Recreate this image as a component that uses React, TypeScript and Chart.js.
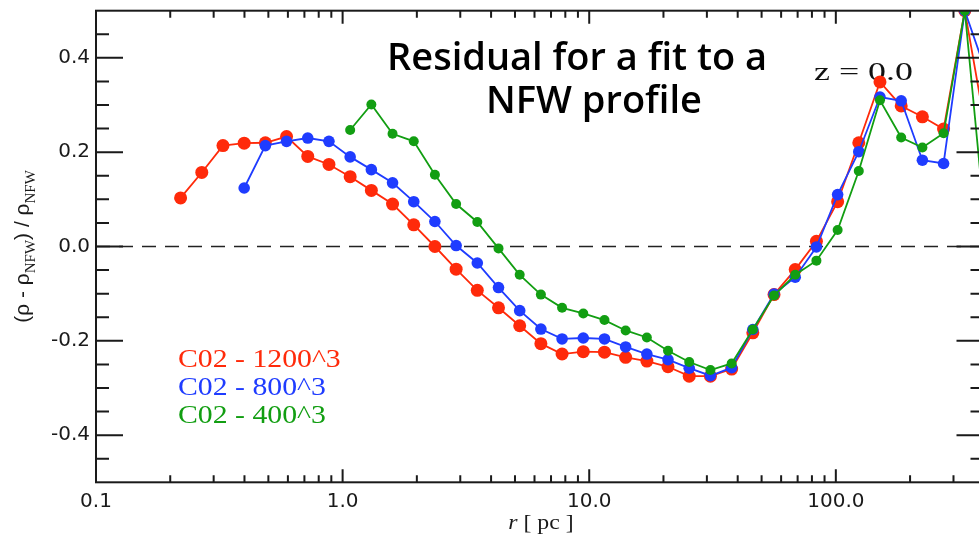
import React, { useEffect, useRef } from 'react';
import { Chart, registerables } from 'chart.js';

Chart.register(...registerables);

// ---- data ----
const radiiPc = [
  0.2203, 0.2685, 0.3272, 0.3989, 0.4861, 0.5925, 0.7222, 0.8802, 1.073, 1.308,
  1.594, 1.943, 2.367, 2.886, 3.517, 4.287, 5.225, 6.368, 7.762, 9.461,
  11.53, 14.05, 17.13, 20.87, 25.44, 31.01, 37.8, 46.07, 56.15, 68.44,
  83.42, 101.7, 123.9, 151.0, 184.1, 224.4, 273.5, 333.4, 406.3,
];

const residual1200 = [
  0.103, 0.157, 0.214, 0.219, 0.22, 0.233, 0.191, 0.174, 0.148, 0.119,
  0.09, 0.046, 0.0, -0.048, -0.093, -0.13, -0.168, -0.206, -0.228, -0.223,
  -0.224, -0.235, -0.243, -0.255, -0.275, -0.275, -0.26, -0.183, -0.102, -0.049,
  0.011, 0.095, 0.22, 0.349, 0.298, 0.275, 0.249, 0.5, 0.245,
];

const residual800 = [
  null, null, null, 0.124, 0.214, 0.223, 0.23, 0.223, 0.19, 0.163,
  0.135, 0.095, 0.053, 0.002, -0.035, -0.087, -0.136, -0.175, -0.196, -0.194,
  -0.196, -0.213, -0.228, -0.24, -0.258, -0.274, -0.257, -0.176, -0.101, -0.065,
  -0.001, 0.11, 0.201, 0.317, 0.309, 0.183, 0.176, 0.5, 0.37,
];

const residual400 = [
  null, null, null, null, null, null, null, null, 0.247, 0.301,
  0.239, 0.223, 0.152, 0.09, 0.052, -0.004, -0.06, -0.102, -0.13, -0.142,
  -0.156, -0.178, -0.193, -0.221, -0.245, -0.262, -0.248, -0.176, -0.104, -0.06,
  -0.03, 0.035, 0.16, 0.31, 0.231, 0.21, 0.24, 0.5, 0.028,
];

const seriesNames = ['C02 - 1200^3', 'C02 - 800^3', 'C02 - 400^3'];
const seriesColors = ['#ff2a0a', '#1f3cff', '#129e12'];

const xMajorTicks = [0.1, 1, 10, 100];
const xTickLabels = ['0.1', '1.0', '10.0', '100.0'];
const xMinorMultipliers = [1, 2, 3, 4, 5, 6, 7, 8, 9];
const xMin = 0.1;
const xMax = 397;

const yMajorTicks = [-0.4, -0.2, 0.0, 0.2, 0.4];
const yTickLabels = ['-0.4', '-0.2', '0.0', '0.2', '0.4'];
const yMinorTicks = [-0.45, -0.35, -0.3, -0.25, -0.15, -0.1, -0.05, 0.05, 0.1, 0.15, 0.25, 0.3, 0.35, 0.45];
const yMin = -0.5;
const yMax = 0.5;

const titleLines = ['Residual for a fit to a', 'NFW profile'];
const redshiftText = 'z = 0.0';

const toPoints = (vals: (number | null)[]) =>
  radiiPc
    .map((r, i) => ({ x: r, y: vals[i] }))
    .filter((p) => p.y !== null) as { x: number; y: number }[];

const near = (a: number, b: number) => Math.abs(a - b) < 1e-6 * Math.max(1, Math.abs(b));

const xTickValues: number[] = [];
xMajorTicks.forEach((d) =>
  xMinorMultipliers.forEach((m) => {
    const v = +(m * d).toPrecision(6);
    if (v <= xMax) xTickValues.push(v);
  })
);
const yTickValues = [...yMajorTicks, ...yMinorTicks].sort((a, b) => a - b);

const INK = '#1a1a1a';

function stretchedText(ctx: CanvasRenderingContext2D, text: string, x: number, y: number, sx: number) {
  ctx.save();
  ctx.translate(x, y);
  ctx.scale(sx, 1);
  ctx.fillText(text, 0, 0);
  ctx.restore();
}

const decorPlugin = {
  id: 'decor',
  beforeDatasetsDraw(chart: any) {
    const ctx: CanvasRenderingContext2D = chart.ctx;
    ctx.save();
    ctx.textAlign = 'left';
    ctx.textBaseline = 'alphabetic';

    // title
    ctx.fillStyle = '#000';
    ctx.font = '600 38px "Open Sans", sans-serif';
    ctx.textAlign = 'center';
    ctx.fillText(titleLines[0], 577, 70);
    ctx.fillText(titleLines[1], 594, 113);
    ctx.textAlign = 'left';

    // redshift
    ctx.fillStyle = '#111';
    ctx.font = '26px "Liberation Serif", serif';
    stretchedText(ctx, redshiftText, 814, 80, 1.38);

    // legend
    ctx.font = '25px "Liberation Serif", serif';
    seriesNames.forEach((name, i) => {
      ctx.fillStyle = seriesColors[i];
      stretchedText(ctx, name, 178, 367 + i * 28, 1.19);
    });

    // y axis title
    ctx.fillStyle = INK;
    const parts: [string, boolean][] = [
      ['(\u03c1 - \u03c1', false],
      ['NFW', true],
      [') / \u03c1', false],
      ['NFW', true],
    ];
    const mainFont = '21px "Liberation Sans", sans-serif';
    const subFont = '15px "Liberation Serif", serif';
    let total = 0;
    parts.forEach(([t, sub]) => {
      ctx.font = sub ? subFont : mainFont;
      total += ctx.measureText(t).width;
    });
    const yc = (chart.chartArea.top + chart.chartArea.bottom) / 2;
    ctx.save();
    ctx.translate(29, yc);
    ctx.rotate(-Math.PI / 2);
    let cx = -total / 2;
    parts.forEach(([t, sub]) => {
      ctx.font = sub ? subFont : mainFont;
      ctx.fillText(t, cx, sub ? 6 : 0);
      cx += ctx.measureText(t).width;
    });
    ctx.restore();

    // x axis title
    ctx.font = 'italic 20px "Liberation Serif", serif';
    const w1 = ctx.measureText('r').width;
    ctx.font = '20px "Liberation Serif", serif';
    const w2 = ctx.measureText(' [ pc ]').width;
    const sx = 1.19;
    const startX = 541 - ((w1 + w2) * sx) / 2;
    ctx.font = 'italic 20px "Liberation Serif", serif';
    stretchedText(ctx, 'r', startX, 529, sx);
    ctx.font = '20px "Liberation Serif", serif';
    stretchedText(ctx, ' [ pc ]', startX + w1 * sx, 529, sx);

    ctx.restore();
  },
  afterDatasetsDraw(chart: any) {
    const ctx: CanvasRenderingContext2D = chart.ctx;
    const { left, right, top, bottom } = chart.chartArea;
    const xs = chart.scales.x;
    const ys = chart.scales.y;
    ctx.save();
    ctx.strokeStyle = INK;
    ctx.lineWidth = 2;
    ctx.strokeRect(left, top, right - left, bottom - top);
    ctx.beginPath();
    xs.ticks.forEach((t: any) => {
      const px = xs.getPixelForValue(t.value);
      const major = xMajorTicks.some((m) => near(m, t.value));
      const len = major ? 13 : 7;
      ctx.moveTo(px, bottom);
      ctx.lineTo(px, bottom - len);
      ctx.moveTo(px, top);
      ctx.lineTo(px, top + len);
    });
    ys.ticks.forEach((t: any) => {
      const py = ys.getPixelForValue(t.value);
      const major = yMajorTicks.some((m) => Math.abs(m - t.value) < 1e-6);
      const len = major ? 27 : 13;
      ctx.moveTo(left, py);
      ctx.lineTo(left + len, py);
      ctx.moveTo(right, py);
      ctx.lineTo(right - len, py);
    });
    ctx.stroke();
    ctx.restore();
  },
};

export default function App() {
  const ref = useRef<HTMLCanvasElement | null>(null);

  useEffect(() => {
    if (!ref.current) return;
    const seriesData = [residual1200, residual800, residual400];
    const radii = [6.5, 5.8, 5];
    const datasets: any[] = seriesData.map((vals, i) => ({
      label: seriesNames[i],
      data: toPoints(vals),
      borderColor: seriesColors[i],
      backgroundColor: seriesColors[i],
      pointBackgroundColor: seriesColors[i],
      pointBorderWidth: 0,
      pointRadius: radii[i],
      borderWidth: 1.8,
      tension: 0,
      order: 2 - i,
    }));
    datasets.push({
      label: 'zero',
      data: [
        { x: xMin, y: 0 },
        { x: xMax, y: 0 },
      ],
      borderColor: '#222',
      borderWidth: 1.6,
      borderDash: [14, 9],
      pointRadius: 0,
      order: 10,
    });

    const tickFont = { family: '"DejaVu Sans", sans-serif', size: 20 };

    const chart = new Chart(ref.current, {
      type: 'line',
      data: { datasets },
      options: {
        animation: false,
        responsive: false,
        maintainAspectRatio: false,
        layout: { padding: { top: 10.7, right: 5, left: 0, bottom: 0 } },
        plugins: {
          legend: { display: false },
          tooltip: { enabled: false },
          title: { display: false },
        },
        scales: {
          x: {
            type: 'logarithmic',
            min: xMin,
            max: xMax,
            position: 'bottom',
            grid: { display: false, drawTicks: false },
            border: { display: false },
            afterBuildTicks: (s: any) => {
              s.ticks = xTickValues.map((v) => ({ value: v }));
            },
            afterFit: (s: any) => {
              s.height = 52.7;
              s.paddingLeft = 0;
              s.paddingRight = 0;
            },
            ticks: {
              autoSkip: false,
              maxRotation: 0,
              minRotation: 0,
              padding: 7,
              color: INK,
              font: tickFont,
              callback: (v: any) => {
                const idx = xMajorTicks.findIndex((m) => near(m, Number(v)));
                return idx >= 0 ? xTickLabels[idx] : '';
              },
            },
          },
          y: {
            type: 'linear',
            min: yMin,
            max: yMax,
            position: 'left',
            grid: { display: false, drawTicks: false },
            border: { display: false },
            afterBuildTicks: (s: any) => {
              s.ticks = yTickValues.map((v) => ({ value: v }));
            },
            afterFit: (s: any) => {
              s.width = 96;
              s.paddingTop = 0;
              s.paddingBottom = 0;
            },
            ticks: {
              autoSkip: false,
              padding: 6,
              color: INK,
              font: tickFont,
              callback: (v: any) => {
                const idx = yMajorTicks.findIndex((m) => Math.abs(m - Number(v)) < 1e-6);
                return idx >= 0 ? yTickLabels[idx] : '';
              },
            },
          },
        },
      } as any,
      plugins: [decorPlugin],
    });
    return () => chart.destroy();
  }, []);

  return (
    <div
      style={{
        position: 'fixed',
        left: 0,
        top: 0,
        width: 979,
        height: 535,
        overflow: 'hidden',
        background: '#fff',
      }}
    >
      <canvas ref={ref} width={990} height={535} style={{ display: 'block', width: 990, height: 535 }} />
    </div>
  );
}
